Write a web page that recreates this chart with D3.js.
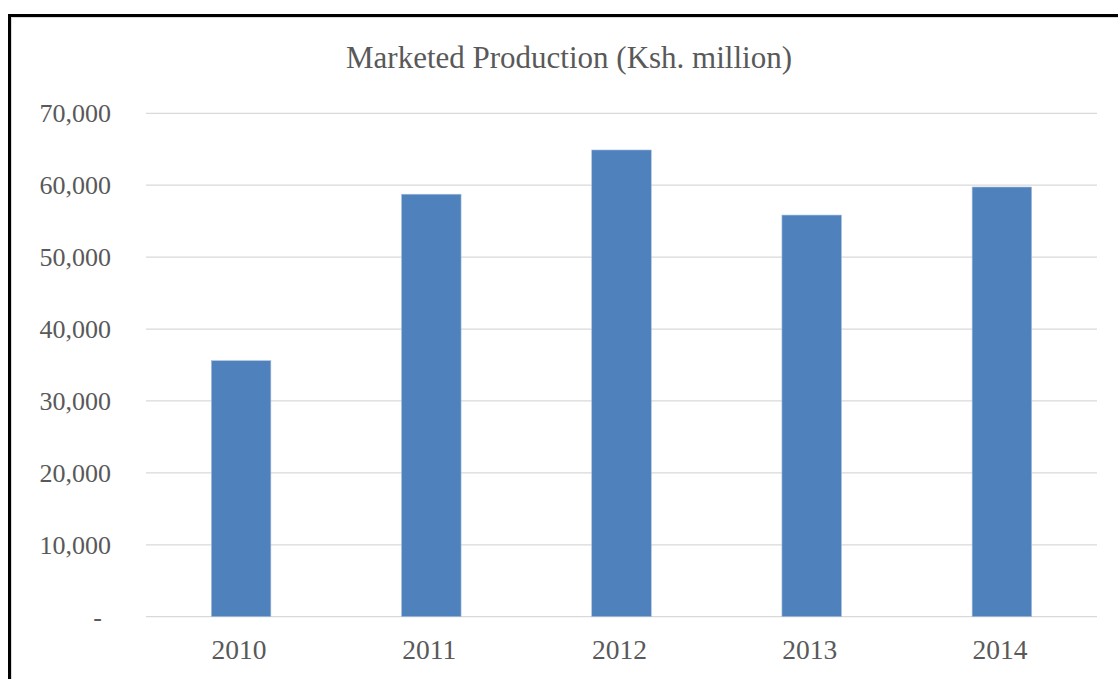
<!DOCTYPE html>
<html>
<head>
<meta charset="utf-8">
<script src="https://cdn.jsdelivr.net/npm/d3@7"></script>
<style>
  html, body { margin: 0; padding: 0; background: #fff; }
  svg { display: block; }
</style>
</head>
<body>
<svg id="chart" width="1118" height="679"></svg>
<script>
// Marketed production by year, Ksh. million
const years = ["2010", "2011", "2012", "2013", "2014"];
const production = [35600, 58750, 64900, 55850, 59750];
const yTicks = [0, 10000, 20000, 30000, 40000, 50000, 60000, 70000];
const chartTitle = "Marketed Production (Ksh. million)";

const svg = d3.select("#chart");
const W = 1118, H = 679;
const plot = { left: 146, right: 1097, top: 113.3, bottom: 616.7 };

// outer frame (runs off the right and bottom edges)
svg.append("rect")
  .attr("x", 9.5).attr("y", 15.5)
  .attr("width", W + 20).attr("height", H + 20)
  .attr("fill", "#fff").attr("stroke", "#000").attr("stroke-width", 3);
svg.append("rect")
  .attr("x", 11.5).attr("y", 17.5)
  .attr("width", W + 20).attr("height", H + 20)
  .attr("fill", "none").attr("stroke", "#d9d9d9").attr("stroke-width", 1);

const x = d3.scaleBand()
  .domain(years)
  .range([plot.left, plot.right])
  .paddingInner(0.687)
  .paddingOuter(0.3435);

const y = d3.scaleLinear()
  .domain([0, 70000])
  .range([plot.bottom, plot.top]);

const font = "'Liberation Serif', 'Times New Roman', serif";
const textColor = "#595959";

// horizontal gridlines
svg.append("g")
  .selectAll("line")
  .data(yTicks)
  .join("line")
  .attr("x1", plot.left).attr("x2", plot.right)
  .attr("y1", d => y(d)).attr("y2", d => y(d))
  .attr("stroke", "#d9d9d9").attr("stroke-width", 1.2);

// y axis labels
const fmt = d3.format(",");
const yAxis = svg.append("g")
  .attr("transform", `translate(${plot.left - 35},0)`)
  .call(d3.axisLeft(y).tickValues(yTicks).tickSize(0).tickPadding(0)
    .tickFormat(d => d === 0 ? "-" : fmt(d)));
yAxis.select(".domain").remove();
yAxis.selectAll("text")
  .attr("fill", textColor)
  .style("font-family", font)
  .style("font-size", "26px")
  .attr("dx", d => d === 0 ? -9 : 0);

// bars
svg.append("g")
  .selectAll("rect")
  .data(years.map((yr, i) => ({ yr, v: production[i] })))
  .join("rect")
  .attr("x", d => x(d.yr))
  .attr("width", x.bandwidth())
  .attr("y", d => y(d.v))
  .attr("height", d => y(0) - y(d.v))
  .attr("fill", "#4f81bd")
  .attr("stroke", "#a9c0de")
  .attr("stroke-width", 0.6);

// x axis labels
const xAxis = svg.append("g")
  .attr("transform", `translate(0,${plot.bottom})`)
  .call(d3.axisBottom(x).tickSize(0).tickPadding(0));
xAxis.select(".domain").remove();
xAxis.selectAll("text")
  .attr("fill", textColor)
  .attr("dy", 0)
  .attr("y", 42)
  .attr("dx", -2)
  .style("font-family", font)
  .style("font-size", "27.5px");

// title
svg.append("text")
  .attr("x", 569).attr("y", 68)
  .attr("text-anchor", "middle")
  .attr("fill", textColor)
  .style("font-family", font)
  .style("font-size", "31px")
  .text(chartTitle);
</script>
</body>
</html>
